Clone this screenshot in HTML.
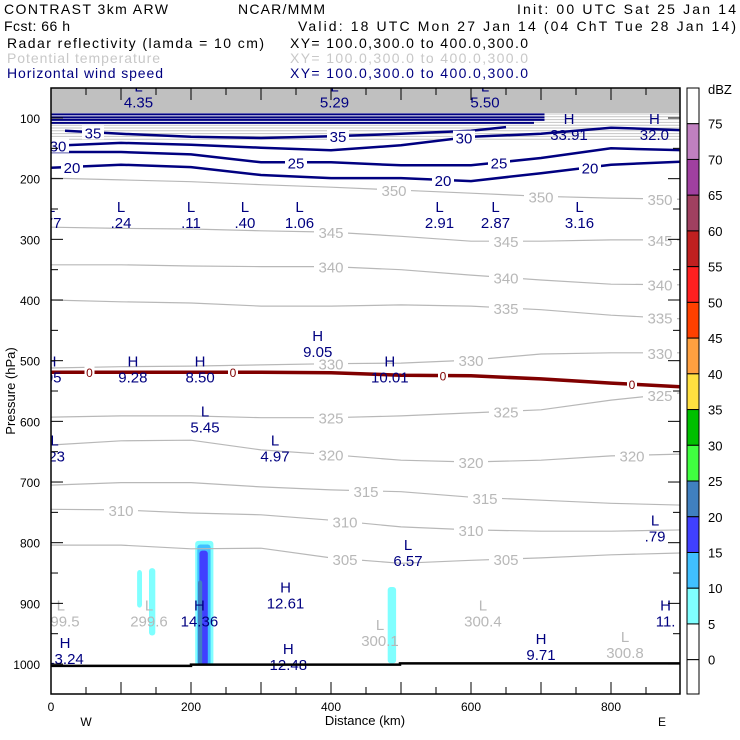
<!DOCTYPE html>
<html><head><meta charset="utf-8"><style>
body{margin:0;background:#fff;}
svg{display:block;font-family:"Liberation Sans",sans-serif;}
</style></head><body>
<svg id="c" width="740" height="740" xmlns="http://www.w3.org/2000/svg">
<g font-size="14">
<text x="4" y="14" textLength="164" lengthAdjust="spacing" fill="#000">CONTRAST  3km ARW</text>
<text x="238" y="14" textLength="87" fill="#000">NCAR/MMM</text>
<text x="517" y="14" textLength="219" fill="#000">Init: 00 UTC Sat 25 Jan 14</text>
<text x="4" y="31" textLength="66" fill="#000">Fcst:   66 h</text>
<text x="298" y="31" textLength="438" fill="#000">Valid: 18 UTC Mon 27 Jan 14 (04 ChT Tue 28 Jan 14)</text>
<text x="7" y="48" textLength="257" fill="#000">Radar reflectivity (lamda = 10 cm)</text>
<text x="290" y="48" textLength="238" fill="#000">XY= 100.0,300.0 to 400.0,300.0</text>
<text x="7" y="63" textLength="153" fill="#c8c8c8">Potential temperature</text>
<text x="290" y="63" textLength="238" fill="#c8c8c8">XY= 100.0,300.0 to 400.0,300.0</text>
<text x="7" y="78" textLength="156" fill="#000080">Horizontal wind speed</text>
<text x="290" y="78" textLength="238" fill="#000080">XY= 100.0,300.0 to 400.0,300.0</text>
</g>
<defs><clipPath id="pc"><rect x="51" y="88" width="629" height="606"/></clipPath></defs>
<g id="plot" clip-path="url(#pc)"></g>
<g id="axes"></g>
<g id="cbar"></g>
</svg>
<script>
// ---- data ----
const nodeKm = [0,100,200,300,400,500,600,700,800,900];
const thetaLevels = [350,345,340,335,330,325,320,315,310,305];
const thetaP = [
 [199,202,205,210,214,219,224,229,232,234],
 [280,282,283,286,288,295,303,303,301,301],
 [342,342,344,345,345,350,359,367,374,375],
 [400,403,405,410,410,408,410,416,425,431],
 [512,510,509,507,505,504,499,489,487,487],
 [593,591,591,594,594,591,586,581,565,553],
 [639,632,631,647,655,664,667,664,657,654],
 [705,701,701,708,713,716,725,730,735,738],
 [745,746,751,754,763,774,779,781,781,779],
 [804,804,810,809,825,834,829,825,820,817]
];
const thetaLabelKm = [[490,700,870],[400,650,870],[400,650,870],[650,870],[400,600,870],[400,650,870],[400,600,830],[450,620],[100,420,600],[420,650]];
const zeroP = [519,519,519,519,520,524,525,530,537,543];
const windLevels = [20,25,30];
const windP = [
 [182,177,181,194,199,199,204,191,177,172],
 [156,156,160,173,173,178,178,166,150,153],
 [146,141,144,149,153,145,131,126,116,120]
];
const windLabelKm = [[30,560,770],[350,640],[10,590]];
const wind35Km = [20,100,200,300,400,500,600,650];
const wind35P = [121,126,131,133,130,126,121,115];
const jetP = [94,99,103,108];
const jetKmEnd = [705,705,705,690];
// reflectivity cells: [kmStart, kmEnd, pTop, pBottom, dBZ]
const reflCells = [
 [123,130,845,907,7],[140,149,842,953,7],[481,493,873,999,7],
 [206,232,797,1002,7],[209,228,803,1002,12],[212,224,813,1002,17],[210,216,862,1002,22]
];
const cbLevels = [75,70,65,60,55,50,45,40,35,30,25,20,15,10,5,0];
const cbColors = ["#c080c0","#a040a0","#a04060","#c02020","#ff2020","#ff4000","#ffa040","#ffe040","#00c000","#40ff40","#4080c0","#4040ff","#40c0ff","#80ffff","#ffffff"];
const pTicks = [100,200,300,400,500,600,700,800,900,1000];
const xTicks = [0,200,400,600,800];
// labels: [km, p, top, bottom, color]
const extremaLabels = [
 [125,60,"L","4.35","#000080"],[405,60,"L","5.29","#000080"],[620,60,"L","5.50","#000080"],
 [740,113,"H","33.91","#000080"],[862,113,"H","32.0","#000080"],
 [0,258,"L",".77","#000080"],[100,258,"L",".24","#000080"],[200,258,"L",".11","#000080"],[277,258,"L",".40","#000080"],[355,258,"L","1.06","#000080"],[555,258,"L","2.91","#000080"],[635,258,"L","2.87","#000080"],[755,258,"L","3.16","#000080"],
 [381,471,"H","9.05","#000080"],[0,513,"H",".05","#000080"],[117,513,"H","9.28","#000080"],[213,513,"H","8.50","#000080"],[484,513,"H","10.01","#000080"],
 [220,595,"L","5.45","#000080"],[320,643,"L","4.97","#000080"],[5,643,"L",".23","#000080"],
 [510,815,"L","6.57","#000080"],[863,775,"L",".79","#000080"],
 [335,885,"H","12.61","#000080"],[212,915,"H","14.36","#000080"],[20,977,"H","13.24","#000080"],[339,987,"H","12.48","#000080"],[700,970,"H","9.71","#000080"],[878,915,"H","11.","#000080"],
 [14,915,"L","299.5","#b8b8b8"],[140,915,"L","299.6","#b8b8b8"],[470,947,"L","300.1","#b8b8b8"],[617,915,"L","300.4","#b8b8b8"],[820,967,"L","300.8","#b8b8b8"]
];
// ---- axis functions ----
const X = km => 51 + km*0.7;
const Y = p => 118 + (p-100)*0.6067;
const NS = "http://www.w3.org/2000/svg";
function mk(tag, attrs, parent){const e=document.createElementNS(NS,tag);for(const k in attrs)e.setAttribute(k,attrs[k]);parent.appendChild(e);return e;}
const plot=document.getElementById('plot'), axes=document.getElementById('axes'), cbar=document.getElementById('cbar');
function interp(kms, ps, km){for(let i=0;i<kms.length-1;i++){if(km<=kms[i+1]){const t=(km-kms[i])/(kms[i+1]-kms[i]);return ps[i]+t*(ps[i+1]-ps[i]);}}return ps[ps.length-1];}
function pathOf(kms, ps){return kms.map((k,i)=>(i?'L':'M')+X(k).toFixed(1)+' '+Y(ps[i]).toFixed(1)).join(' ');}

// top dense gray band
let band = mk('rect',{x:51,y:88,width:629,height:25,fill:'#c0c0c0'},plot);


for(let i=0;i<10;i++){
  const l=mk('line',{x1:51,x2:680,y1:114+i*2.8,y2:114+i*2.8,stroke:'#c4c4c4','stroke-width':1},plot);
  
  
}
// reflectivity
function dbzColor(v){const idx=cbLevels.findIndex(l=>v>=l);return cbColors[Math.max(0,idx-1)]||'#fff';}
reflCells.forEach(c=>{
  const r=mk('rect',{x:X(c[0]),y:Y(c[2]),width:X(c[1])-X(c[0]),height:Y(c[3])-Y(c[2]),rx:3,fill:dbzColor(c[4])},plot);
  
  
});
// theta contours
thetaLevels.forEach((lv,i)=>{
  const p=mk('path',{d:pathOf(nodeKm,thetaP[i]),fill:'none',stroke:'#b8b8b8','stroke-width':1.2},plot);
  
  
  thetaLabelKm[i].forEach(k=>{
    const yy=Y(interp(nodeKm,thetaP[i],k));
    mk('rect',{x:X(k)-17,y:yy-8,width:34,height:16,fill:'#fff'},plot);
    const t=mk('text',{x:X(k),y:yy+6,'text-anchor':'middle','font-size':15,fill:'#b8b8b8'},plot);
    t.textContent=lv;
    
    
  });
});
// zero contour
const z=mk('path',{d:pathOf(nodeKm,zeroP),fill:'none',stroke:'#800000','stroke-width':3.5},plot);


[55,260,560,830].forEach(k=>{
  const yy=Y(interp(nodeKm,zeroP,k));
  mk('rect',{x:X(k)-5,y:yy-6,width:10,height:12,fill:'#fff'},plot);
  const t=mk('text',{x:X(k),y:yy+5,'text-anchor':'middle','font-size':12,fill:'#800000'},plot);
  t.textContent='0';
  
  
});
// jet lines
jetP.forEach((p,i)=>{
  const l=mk('line',{x1:X(0),x2:X(jetKmEnd[i]),y1:Y(p),y2:Y(p),stroke:'#000080','stroke-width':2},plot);
  
  
});
const w35=mk('path',{d:pathOf(wind35Km,wind35P),fill:'none',stroke:'#000080','stroke-width':2.5},plot);


[[60,'35'],[410,'35']].forEach(a=>{
  const yy=Y(interp(wind35Km,wind35P,a[0]));
  mk('rect',{x:X(a[0])-11,y:yy-7,width:22,height:14,fill:'#fff'},plot);
  const t=mk('text',{x:X(a[0]),y:yy+6,'text-anchor':'middle','font-size':15,fill:'#000080'},plot);
  t.textContent=a[1];
  
  
});
windLevels.forEach((lv,i)=>{
  const p=mk('path',{d:pathOf(nodeKm,windP[i]),fill:'none',stroke:'#000080','stroke-width':2.5},plot);
  
  
  windLabelKm[i].forEach(k=>{
    const yy=Y(interp(nodeKm,windP[i],k));
    mk('rect',{x:X(k)-11,y:yy-7,width:22,height:14,fill:'#fff'},plot);
    const t=mk('text',{x:X(k),y:yy+6,'text-anchor':'middle','font-size':15,fill:'#000080'},plot);
    t.textContent=lv;
    
    
  });
});
// extrema labels
extremaLabels.forEach(e=>{
  const t1=mk('text',{x:X(e[0]),y:Y(e[1])-2,'text-anchor':'middle','font-size':15,fill:e[4]},plot);
  t1.textContent=e[2];
  
  
  const t2=mk('text',{x:X(e[0]),y:Y(e[1])+14,'text-anchor':'middle','font-size':15,fill:e[4]},plot);
  t2.textContent=e[3];
  
  
});
// ground
const g=mk('path',{d:`M51 ${Y(1003)} L191 ${Y(1003)} L191 ${Y(1001)} L400 ${Y(1001)} L400 ${Y(999)} L680 ${Y(999)}`,fill:'none',stroke:'#000','stroke-width':2.5},plot);


// frame
const fr=mk('rect',{x:51,y:88,width:629,height:606,fill:'none',stroke:'#000','stroke-width':1.5},axes);


for(let p=50;p<=1050;p+=50){
  const yy=Y(p); if(yy<88||yy>694)continue;
  const len=(p%100===0)?12:7;
  mk('line',{x1:51,x2:51+len,y1:yy,y2:yy,stroke:'#000'},axes);
  mk('line',{x1:680,x2:680-len,y1:yy,y2:yy,stroke:'#000'},axes);
}
pTicks.forEach(p=>{
  const t=mk('text',{x:40,y:Y(p)+5,'text-anchor':'end','font-size':12,fill:'#000'},axes);
  t.textContent=p;
  
  
});
for(let k=0;k<=850;k+=50){
  const len=(k%100===0)?12:7;
  mk('line',{x1:X(k),x2:X(k),y1:694,y2:694-len,stroke:'#000'},axes);
  mk('line',{x1:X(k),x2:X(k),y1:88,y2:88+len,stroke:'#000'},axes);
}
xTicks.forEach(k=>{
  const t=mk('text',{x:X(k),y:711,'text-anchor':'middle','font-size':12,fill:'#000'},axes);
  t.textContent=k;
  
  
});
[['W',86,'west-label'],['E',662,'east-label']].forEach(a=>{
  const t=mk('text',{x:a[1],y:726,'text-anchor':'middle','font-size':12,fill:'#000'},axes);
  t.textContent=a[0];
  
  
});
const xt=mk('text',{x:365,y:725,'text-anchor':'middle','font-size':13,fill:'#000'},axes);
xt.textContent='Distance (km)';


const yt=mk('text',{x:15,y:391,'text-anchor':'middle','font-size':13,fill:'#000',transform:'rotate(-90 15 391)'},axes);
yt.textContent='Pressure (hPa)';


// colorbar
const cbTop=88, cbStep=35.73, cbX=687, cbW=12;
const cbY = i => cbTop + cbStep + i*cbStep;
mk('rect',{x:cbX,y:cbTop,width:cbW,height:cbStep,fill:'#fff',stroke:'#000'},cbar);
cbColors.forEach((c,i)=>{
  const r=mk('rect',{x:cbX,y:cbY(i),width:cbW,height:cbStep,fill:c,stroke:'#000','stroke-width':1},cbar);
  
  
});
mk('rect',{x:cbX,y:cbY(cbLevels.length-1),width:cbW,height:694-cbY(cbLevels.length-1),fill:'#fff',stroke:'#000'},cbar);
cbLevels.forEach((l,i)=>{
  const t=mk('text',{x:708,y:cbY(i)+5,'font-size':13,fill:'#000'},cbar);
  t.textContent=l;
  
  
});
const du=mk('text',{x:708,y:94,'font-size':13,fill:'#000'},cbar);
du.textContent='dBZ';


</script>
</body></html>
